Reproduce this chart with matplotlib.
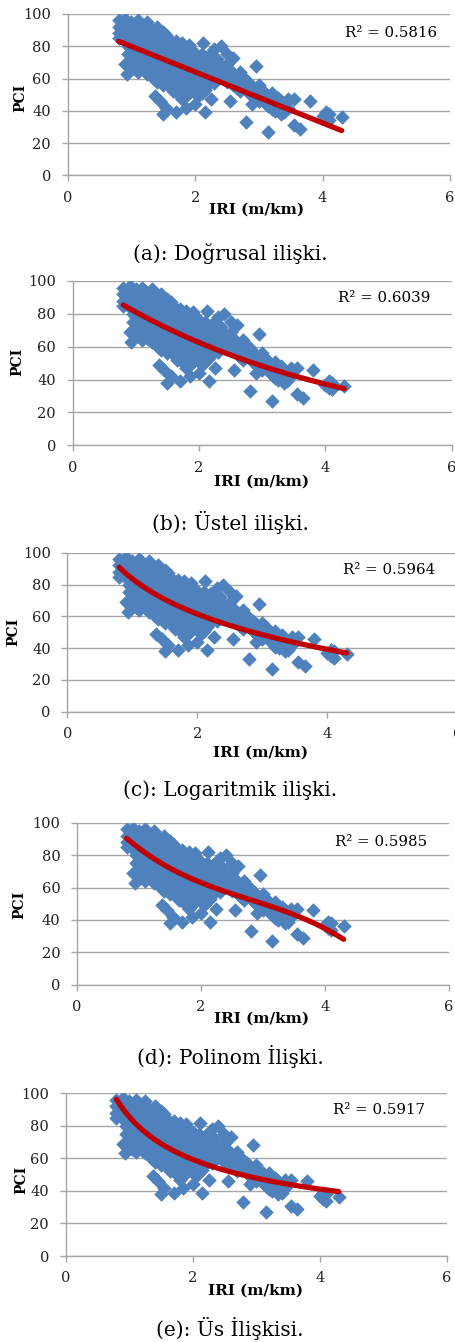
import numpy as np
import matplotlib
matplotlib.use('Agg')
import matplotlib.pyplot as plt

# IRI (m/km) and PCI values (same data in every panel)
iri = [0.80, 0.80, 0.80, 0.80,
       0.85, 0.85, 0.85,
       0.90, 0.90, 0.90, 0.90, 0.90, 0.93,
       0.95, 0.95, 0.95, 0.95,
       1.00, 1.00, 1.00, 1.00, 1.00, 1.00,
       1.05, 1.05, 1.05, 1.05, 1.05, 1.05,
       1.10, 1.10, 1.10, 1.10, 1.10, 1.10, 1.10,
       1.15, 1.15, 1.15, 1.15, 1.15, 1.15,
       1.20, 1.20, 1.20, 1.20, 1.20, 1.20,
       1.25, 1.25, 1.25, 1.25, 1.25, 1.25, 1.25,
       1.30, 1.30, 1.30, 1.30, 1.30, 1.30,
       1.35, 1.35, 1.35, 1.35, 1.35, 1.35, 1.37,
       1.40, 1.40, 1.40, 1.40, 1.40, 1.40, 1.40,
       1.45, 1.45, 1.45, 1.45, 1.45, 1.45, 1.45,
       1.50, 1.50, 1.50, 1.50, 1.50, 1.50, 1.50, 1.50,
       1.55, 1.55, 1.55, 1.55, 1.55, 1.55, 1.55,
       1.60, 1.60, 1.60, 1.60, 1.60, 1.60,
       1.65, 1.65, 1.65, 1.65, 1.65, 1.65,
       1.70, 1.70, 1.70, 1.70, 1.70, 1.70, 1.70,
       1.75, 1.75, 1.75, 1.75, 1.75, 1.75,
       1.80, 1.80, 1.80, 1.80, 1.80, 1.80, 1.80,
       1.85, 1.85, 1.85, 1.85, 1.85, 1.85, 1.85,
       1.90, 1.90, 1.90, 1.90, 1.90, 1.90,
       1.95, 1.95, 1.95, 1.95, 1.95,
       2.00, 2.00, 2.00, 2.00, 2.00, 2.00,
       2.05, 2.05, 2.05, 2.05, 2.05,
       2.10, 2.10, 2.10, 2.10, 2.10, 2.12,
       2.15, 2.15, 2.15, 2.15, 2.15,
       2.20, 2.20, 2.20, 2.20,
       2.25, 2.25, 2.25,
       2.30, 2.30, 2.30, 2.30,
       2.35, 2.35,
       2.40, 2.40, 2.40,
       2.45, 2.45,
       2.50, 2.50, 2.50, 2.50,
       2.55, 2.55, 2.55,
       2.60, 2.60, 2.60,
       2.65, 2.65,
       2.70, 2.70, 2.70,
       2.75, 2.75,
       2.80, 2.80, 2.80,
       2.85, 2.85,
       2.90, 2.90, 2.90,
       2.95, 2.95,
       3.00, 3.00, 3.00,
       3.05, 3.05,
       3.10, 3.10,
       3.15, 3.15, 3.15,
       3.20, 3.20, 3.20,
       3.25, 3.25,
       3.30, 3.30,
       3.35, 3.35, 3.35,
       3.40, 3.40,
       3.45, 3.45,
       3.55, 3.55, 3.65, 3.80,
       4.00, 4.05, 4.05, 4.10, 4.10, 4.30]
pci = [96, 92, 88, 85,
       94, 90, 86,
       97, 93, 89, 84, 69, 63,
       91, 87, 80, 75,
       95, 90, 85, 78, 72, 68,
       93, 88, 83, 76, 70, 66,
       96, 91, 86, 80, 74, 68, 64,
       94, 89, 84, 78, 72, 67,
       92, 87, 82, 76, 70, 65,
       95, 90, 85, 79, 73, 68, 63,
       91, 86, 81, 75, 69, 64,
       89, 84, 78, 72, 66, 60, 49,
       92, 87, 82, 76, 70, 64, 58,
       88, 83, 77, 71, 65, 59, 46,
       89, 85, 80, 74, 68, 62, 56, 38,
       87, 82, 76, 70, 64, 58, 42,
       84, 79, 73, 67, 61, 55,
       81, 75, 69, 63, 57, 52,
       83, 78, 72, 66, 60, 54, 39,
       80, 74, 68, 62, 56, 50,
       82, 77, 71, 65, 59, 53, 47,
       79, 73, 67, 61, 55, 49, 42,
       81, 75, 69, 63, 57, 51,
       77, 71, 65, 59, 53,
       76, 70, 64, 58, 52, 44,
       73, 67, 61, 55, 49,
       75, 69, 63, 57, 51, 82,
       71, 65, 59, 53, 39,
       74, 68, 62, 56,
       66, 60, 47,
       78, 70, 63, 57,
       72, 65,
       80, 68, 62,
       66, 60,
       75, 69, 63, 58,
       65, 59, 46,
       73, 62, 56,
       60, 54,
       64, 58, 52,
       61, 55,
       59, 53, 33,
       57, 51,
       55, 49, 44,
       68, 53,
       56, 50, 46,
       53, 48,
       51, 45,
       49, 43, 27,
       51, 47, 41,
       45, 40,
       48, 43,
       46, 41, 38,
       44, 39,
       47, 42,
       47, 31, 29, 46,
       37, 39, 35, 38, 34, 36]

captions = ['(a): Doğrusal ilişki.', '(b): Üstel ilişki.', '(c): Logaritmik ilişki.',
            '(d): Polinom İlişki.', '(e): Üs İlişkisi.']
r2_labels = ['R² = 0.5816', 'R² = 0.6039', 'R² = 0.5964', 'R² = 0.5985', 'R² = 0.5917']

# trendline coefficients
lin_coef = [-15.82, 95.74]                 # y = a*x + b
exp_coef = [105.1, -0.2593]                # y = a*exp(b*x)
log_coef = [83.65, -32.04]                 # y = a + b*ln(x)
poly_coef = [-1.7473, 14.582, -52.759, 124.17]  # cubic
pow_coef = [85.6, -0.5285]                 # y = a*x^b

xt = np.linspace(0.8, 4.3, 100)
trends = [
    np.polyval(lin_coef, xt),
    exp_coef[0] * np.exp(exp_coef[1] * xt),
    log_coef[0] + log_coef[1] * np.log(xt),
    np.polyval(poly_coef, xt),
    pow_coef[0] * xt ** pow_coef[1],
]

W, H = 456, 1342
fig = plt.figure(figsize=(W / 100, H / 100), dpi=100)

# pixel layout: x0, x6, ytop, ybot, xlabel (x,y), ylabel (x,y), caption y, r2 (x,y)
layout = [
    (67.7, 450.0, 14.0, 175.3, (257, 210), (20, 98), 253, (345, 33)),
    (72.7, 451.7, 281.0, 445.3, (262, 482), (17, 362), 522, (338, 298)),
    (67.3, 457.3, 552.7, 711.7, (261, 753), (13, 632), 790, (343, 570)),
    (77.0, 449.0, 822.7, 984.7, (262, 1019), (19, 905), 1057, (335, 842)),
    (65.7, 446.7, 1093.3, 1256.0, (256, 1291), (21, 1180), 1328, (333, 1110)),
]

blue = '#4F81BD'
red = '#C00000'
gray = '#A6A6A6'
serif = 'DejaVu Serif'

for i, (x0, x6, yt, yb, xl, yl, cy, r2) in enumerate(layout):
    ax = fig.add_axes([x0 / W, 1 - yb / H, (x6 - x0) / W, (yb - yt) / H])
    ax.scatter(iri, pci, marker='D', s=55, color=blue, linewidths=0, zorder=3)
    ax.plot(xt, trends[i], color=red, lw=3.8, solid_capstyle='round', zorder=4)
    ax.set_xlim(0, 6)
    ax.set_ylim(0, 100)
    ax.set_xticks([0, 2, 4, 6])
    ax.set_yticks([0, 20, 40, 60, 80, 100])
    ax.yaxis.grid(True, color=gray, lw=1)
    ax.set_axisbelow(True)
    for s in ['top', 'right']:
        ax.spines[s].set_visible(False)
    for s in ['left', 'bottom']:
        ax.spines[s].set_color(gray)
        ax.spines[s].set_linewidth(1)
    ax.tick_params(colors=gray, length=4, width=1, labelcolor='#222222',
                   labelsize=10.5)
    ax.tick_params(axis='y', pad=8)
    ax.tick_params(axis='x', pad=7)
    for lab in ax.get_xticklabels() + ax.get_yticklabels():
        lab.set_family(serif)

    fig.text(xl[0] / W, 1 - xl[1] / H, 'IRI (m/km)', family=serif, weight='bold',
             fontsize=11, ha='center', va='center')
    fig.text(yl[0] / W, 1 - yl[1] / H, 'PCI', family=serif, weight='bold',
             fontsize=10, ha='center', va='center', rotation=90)
    fig.text(r2[0] / W, 1 - r2[1] / H, r2_labels[i], family=serif,
             fontsize=10.8, ha='left', va='center')
    fig.text(230 / W, 1 - cy / H, captions[i], family=serif, fontsize=14.5,
             ha='center', va='center')

fig.savefig('out.png', dpi=100)
